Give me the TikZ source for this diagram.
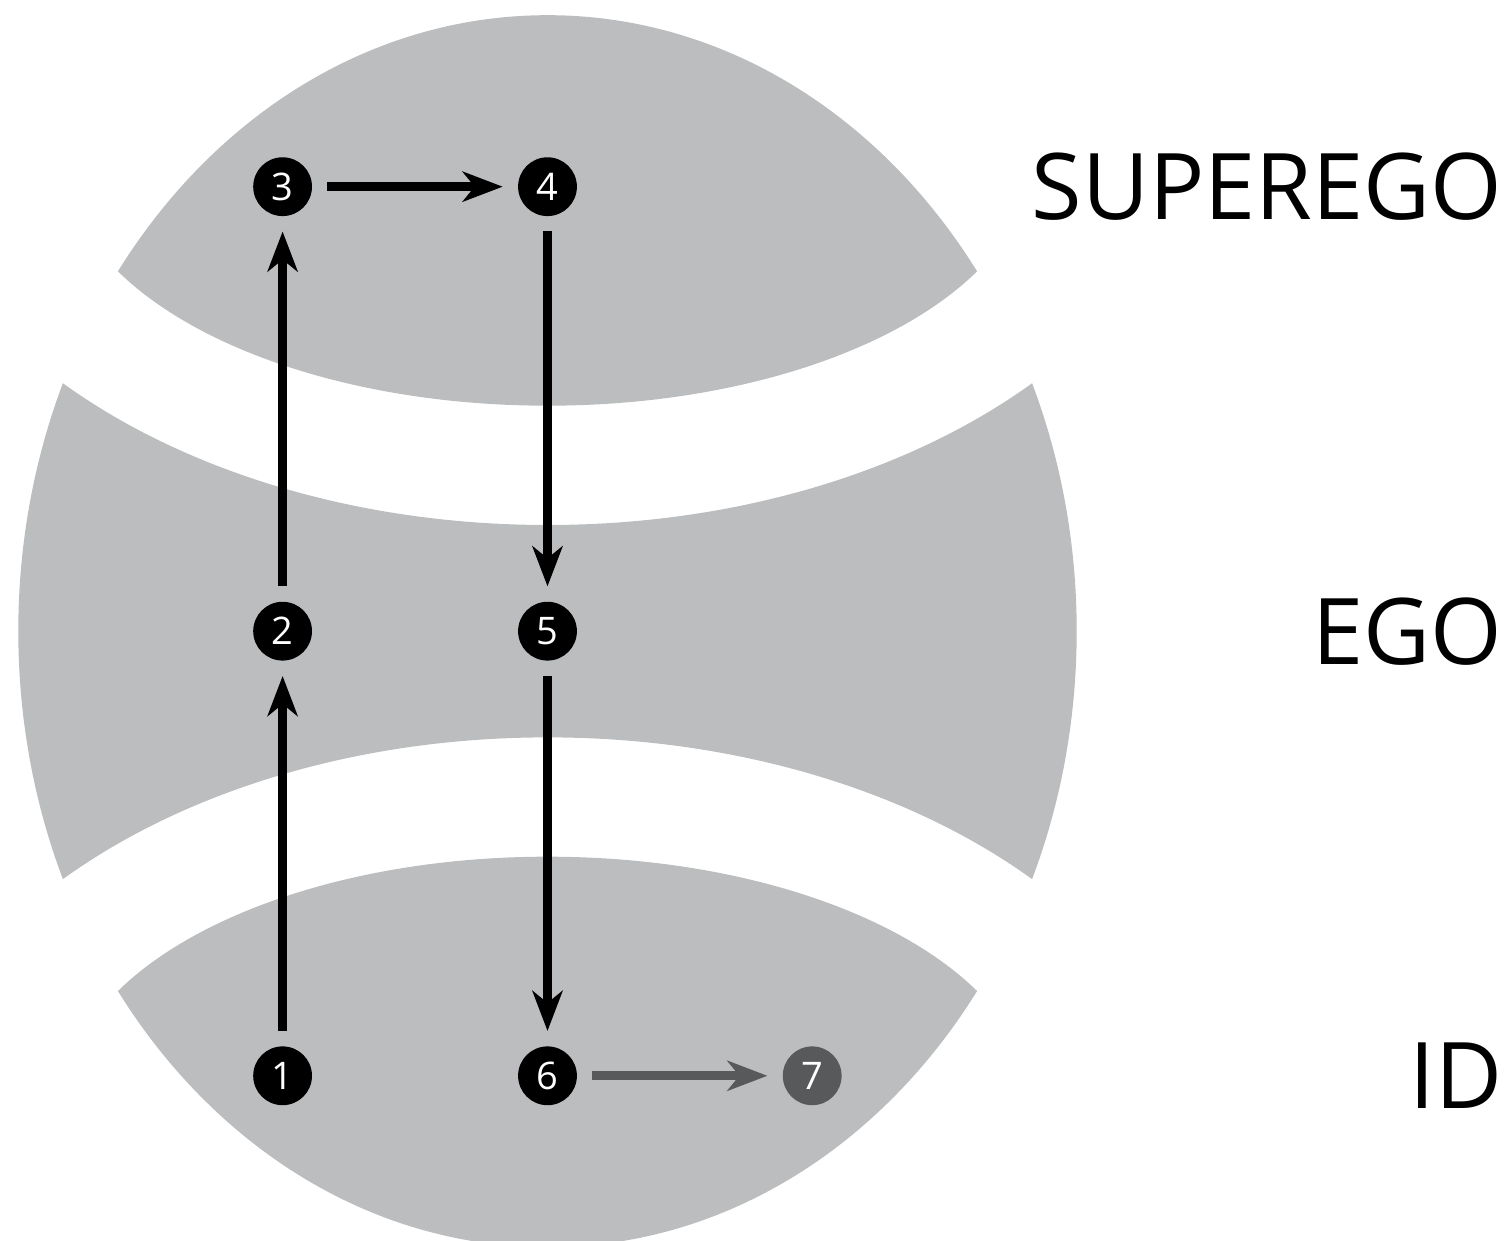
\documentclass[tikz,border=0pt]{standalone}
\usepackage{fontspec}
\setmainfont{Open Sans}
\usepackage{xcolor}
\usetikzlibrary{arrows.meta}
\definecolor{layergray}{RGB}{188,189,191}
\definecolor{idgray}{RGB}{88,89,91}
\tikzset{>={Stealth[length=20pt,width=15pt,inset=6pt]}}
\tikzset{
  stage/.style={circle, fill=black, text=white, minimum size=29.4pt, inner sep=0pt,
    font=\fontsize{19}{19}\selectfont},
  flow/.style={->, line width=4.5pt, shorten >=7.5pt, shorten <=7.5pt},
  layer/.style={anchor=east, inner sep=0pt, font=\fontsize{46}{46}\selectfont}
}

\begin{document}
\begin{tikzpicture}[x=0.5pt,y=0.5pt]
        \useasboundingbox (0,0) rectangle (1506,1241);

        % Layers
        \begin{scope}
          \clip (547.5,609.8) ellipse [x radius=529.2, y radius=616];
          \fill[layergray, even odd rule] (0,0) rectangle (1506,1241)
            (547.5,1157.5) ellipse [x radius=660, y radius=441.5]
            (547.5,1086.3) ellipse [x radius=485, y radius=251]
            (547.5,62.1) ellipse [x radius=660, y radius=441.5]
            (547.5,133.3) ellipse [x radius=485, y radius=251];
        \end{scope}

        % Stages
        \node[stage] (n3) at (282.6,1054.3) {3};
        \node[stage] (n4) at (547.5,1054.3) {4};
        \node[stage] (n2) at (282.6,609.8) {2};
        \node[stage] (n5) at (547.5,609.8) {5};
        \node[stage] (n1) at (282.6,165.2) {1};
        \node[stage] (n6) at (547.5,165.2) {6};
        \node[stage, fill=idgray] (n7) at (812.2,165.2) {7};

        \draw[flow] (n1) -- (n2);
        \draw[flow] (n2) -- (n3);
        \draw[flow] (n3) -- (n4);
        \draw[flow] (n4) -- (n5);
        \draw[flow] (n5) -- (n6);
        \draw[flow, idgray] (n6) -- (n7);

        % Labels
        \node[layer] (superego) at (1503,1054.3) {SUPEREGO};
        \node[layer] (ego) at (1503,609.8) {EGO};
        \node[layer] (id) at (1503,165.2) {ID};
      \end{tikzpicture}
\end{document}
